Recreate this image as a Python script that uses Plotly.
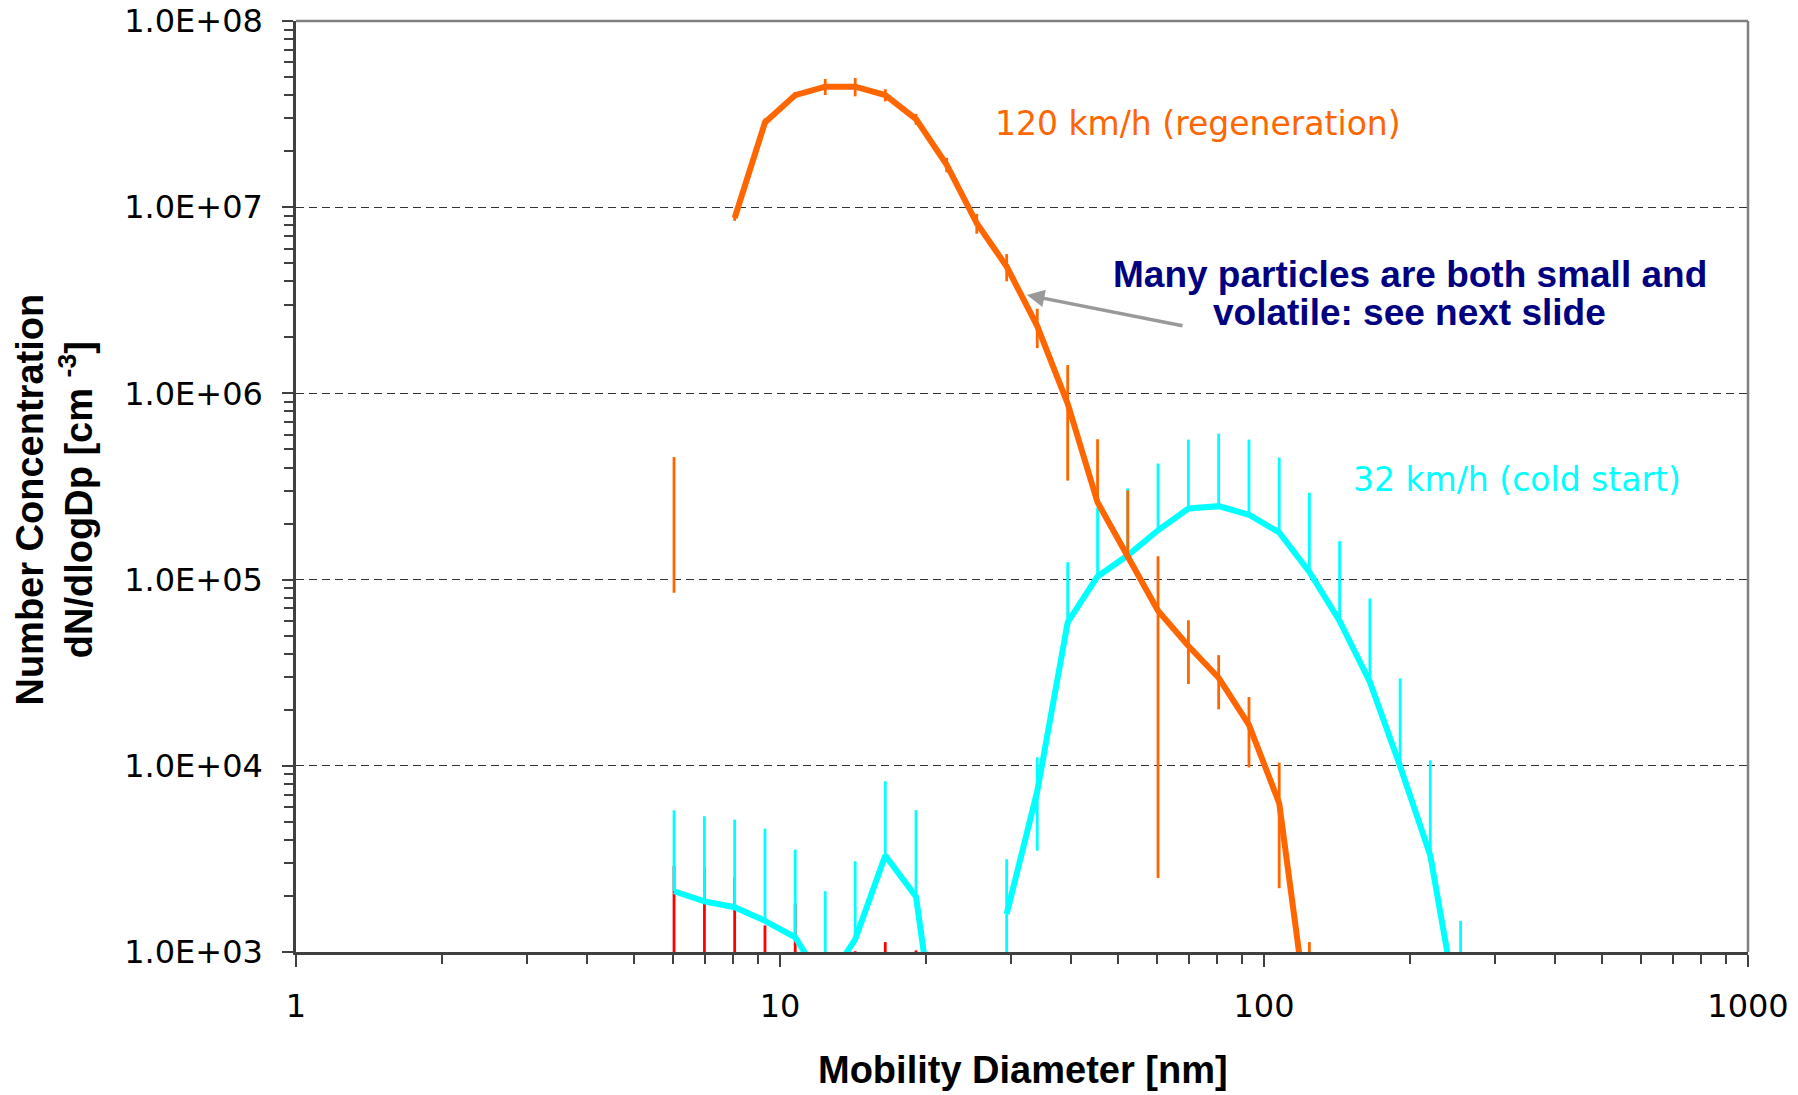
import plotly.graph_objects as go

# ---------------- data ----------------
# 120 km/h (regeneration)
diam_120 = [6.04, 6.98, 8.06, 9.31, 10.75, 12.4, 14.3, 16.5, 19.1, 22.1, 25.5,
            29.4, 34.0, 39.3, 45.3, 52.3, 60.4, 69.8, 80.6, 93.1, 107.5, 124.1]
conc_120 = [2.7e5, None, 8.75e6, 2.85e7, 4.0e7, 4.44e7, 4.44e7, 4.0e7, 2.97e7, 1.69e7, 8.2e6,
            4.8e6, 2.3e6, 8.8e5, 2.6e5, 1.31e5, 6.8e4, 4.4e4, 2.97e4, 1.66e4, 6.3e3, 380]
err_120 = [1.85e5, 0, 3e5, 1.5e6, 1.5e6, 4.4e6, 5.0e6, 3.0e6, 2.0e6, 1.5e6, 1.0e6,
           0.8e6, 0.55e6, 5.4e5, 3.07e5, 1.7e5, 6.55e4, 1.65e4, 9.6e3, 6.8e3, 4.1e3, 750]

# 32 km/h (cold start)
diam_32 = [6.04, 6.98, 8.06, 9.31, 10.75, 12.4, 14.3, 16.5, 19.1, 22.1, 25.5,
           29.4, 34.0, 39.3, 45.3, 52.3, 60.4, 69.8, 80.6, 93.1, 107.5, 124.1,
           143.3, 165.5, 191.1, 220.6, 254.8]
conc_32 = [2120, 1870, 1740, 1470, 1200, 660, 1170, 3300, 1980, 130, None,
           1600, 7300, 5.9e4, 1.04e5, 1.35e5, 1.84e5, 2.41e5, 2.48e5, 2.23e5, 1.79e5, 1.10e5,
           6.0e4, 2.82e4, 9950, 3300, 390]
err_32 = [3650, 3490, 3400, 3130, 2350, 1460, 1900, 4960, 3800, 100, 0,
          1550, 3800, 6.5e4, 1.4e5, 1.74e5, 2.36e5, 3.24e5, 3.6e5, 3.42e5, 2.73e5, 1.83e5,
          1.01e5, 5.1e4, 1.95e4, 7400, 1080]

# third series (values below the axis, only error bars visible)
diam_red = [6.04, 6.98, 8.06, 9.31, 10.75, 12.4, 14.3, 16.5, 19.1]
conc_red = [600, 550, 500, 400, 350, None, 180, 250, 200]
err_red = [2300, 2290, 2030, 990, 1470, 0, 830, 880, 820]

x_tick_vals = [1, 10, 100, 1000]
x_tick_text = ["1", "10", "100", "1000"]
y_tick_vals = [1e3, 1e4, 1e5, 1e6, 1e7, 1e8]
y_tick_text = ["1.0E+03", "1.0E+04", "1.0E+05", "1.0E+06", "1.0E+07", "1.0E+08"]

ORANGE = "#FF6600"
CYAN = "#00FFFF"
RED = "#FF0000"
NAVY = "#000080"


def lower_err(vals, errs):
    # Excel-style: the lower half is not drawn when it would go below zero
    out = []
    for v, e in zip(vals, errs):
        if v is None or e >= v:
            out.append(0)
        else:
            out.append(e)
    return out


fig = go.Figure()


def add_series(x, y, e, color, lw):
    fig.add_trace(go.Scatter(
        x=x, y=y, mode="lines", connectgaps=False,
        line=dict(color=color, width=lw),
        error_y=dict(type="data", symmetric=False, array=e,
                     arrayminus=lower_err(y, e), color=color,
                     thickness=2.8, width=0),
        hoverinfo="skip",
    ))


add_series(diam_red, conc_red, err_red, RED, 4)
add_series(diam_32, conc_32, err_32, CYAN, 6)
add_series(diam_120, conc_120, err_120, ORANGE, 6)

x_minor = [m * 10 ** d for d in range(0, 3) for m in range(2, 10)]
y_minor = [m * 10 ** d for d in range(3, 8) for m in range(2, 10)]

AXC = "#404040"
fig.update_layout(
    width=1798, height=1095,
    margin=dict(l=296, r=50, t=21, b=143, autoexpand=False),
    plot_bgcolor="white", paper_bgcolor="white",
    showlegend=False,
    xaxis=dict(
        type="log", range=[0, 3], tickmode="array",
        tickvals=x_tick_vals, ticktext=x_tick_text,
        ticks="outside", ticklen=12, tickwidth=1.5, tickcolor=AXC,
        showline=True, linecolor=AXC, linewidth=2.5,
        showgrid=False, zeroline=False, automargin=False,
        ticklabelstandoff=12,
        tickfont=dict(family="DejaVu Sans", size=32, color="black"),
        minor=dict(tickmode="array", tickvals=x_minor, ticks="outside",
                   ticklen=9, tickwidth=1.5, tickcolor=AXC, showgrid=False),
    ),
    yaxis=dict(
        type="log", range=[3, 8], tickmode="array",
        tickvals=y_tick_vals, ticktext=y_tick_text,
        ticks="outside", ticklen=11, tickwidth=1.5, tickcolor=AXC,
        showline=True, linecolor=AXC, linewidth=2.5,
        showgrid=True, gridcolor="#333333", gridwidth=1, griddash="8px,5px",
        zeroline=False, automargin=False,
        ticklabelstandoff=13,
        tickfont=dict(family="DejaVu Sans", size=32, color="black"),
        minor=dict(tickmode="array", tickvals=y_minor, ticks="outside",
                   ticklen=9, tickwidth=1.5, tickcolor=AXC, showgrid=False),
    ),
)

# plot-area frame (top and right edges)
fig.add_shape(type="line", xref="paper", yref="paper", x0=0, x1=1, y0=1, y1=1,
              line=dict(color="#808080", width=2.5), layer="above")
fig.add_shape(type="line", xref="paper", yref="paper", x0=1, x1=1, y0=0, y1=1,
              line=dict(color="#808080", width=2.5), layer="above")

# axis titles
fig.add_annotation(
    xref="paper", yref="paper", x=0.5007, y=-0.127, showarrow=False,
    text="<b>Mobility Diameter [nm]</b>", xanchor="center", yanchor="middle",
    font=dict(family="Liberation Sans", size=38, color="black"))
fig.add_annotation(
    xref="paper", yref="paper", x=-0.1663, y=0.4855, showarrow=False,
    textangle=-90, xanchor="center", yanchor="middle",
    text="<b>Number Concentration<br>dN/dlogDp [cm <sup>-3</sup>]</b>",
    font=dict(family="Liberation Sans", size=38, color="black"))

# series labels
fig.add_annotation(
    xref="paper", yref="paper", x=0.6212, y=0.8894, showarrow=False,
    text="120 km/h (regeneration)", xanchor="center", yanchor="middle",
    font=dict(family="DejaVu Sans", size=33, color=ORANGE))
fig.add_annotation(
    xref="paper", yref="paper", x=0.841, y=0.508, showarrow=False,
    text="32 km/h (cold start)", xanchor="center", yanchor="middle",
    font=dict(family="DejaVu Sans", size=33, color=CYAN))

# callout
fig.add_annotation(
    xref="paper", yref="paper", x=0.767, y=0.7272, showarrow=False,
    text="<b>Many particles are both small and</b>", xanchor="center", yanchor="middle",
    font=dict(family="Liberation Sans", size=37, color=NAVY))
fig.add_annotation(
    xref="paper", yref="paper", x=0.767, y=0.6874, showarrow=False,
    text="<b>volatile: see next slide</b>", xanchor="center", yanchor="middle",
    font=dict(family="Liberation Sans", size=37, color=NAVY))
fig.add_annotation(
    xref="paper", yref="paper", x=0.5034, y=0.7057, text="",
    showarrow=True, ax=157, ay=31, axref="pixel", ayref="pixel",
    arrowhead=2, arrowsize=1.0, arrowwidth=3.5, arrowcolor="#999999",
    standoff=0, startstandoff=0)

fig.write_html("out.html")
